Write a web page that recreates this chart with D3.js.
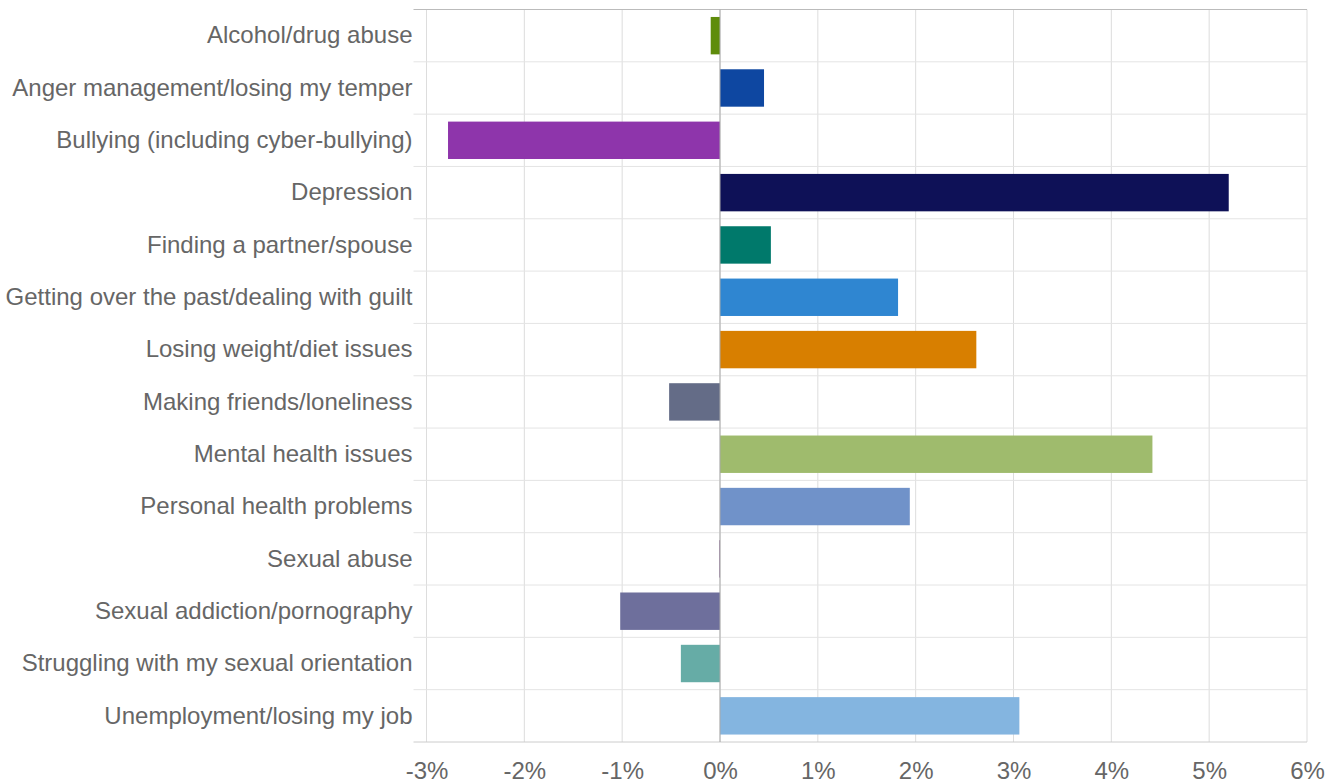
<!DOCTYPE html>
<html>
<head>
<meta charset="utf-8">
<script src="https://cdn.jsdelivr.net/npm/d3@7"></script>
<style>
  html, body { margin: 0; padding: 0; background: #fff; }
  svg { display: block; font-family: "Liberation Sans", Arial, sans-serif; }
</style>
</head>
<body>
<svg id="chart" width="1339" height="783"></svg>
<script>
// Change in share of concerns (percentage points)
const categories = [
  "Alcohol/drug abuse",
  "Anger management/losing my temper",
  "Bullying (including cyber-bullying)",
  "Depression",
  "Finding a partner/spouse",
  "Getting over the past/dealing with guilt",
  "Losing weight/diet issues",
  "Making friends/loneliness",
  "Mental health issues",
  "Personal health problems",
  "Sexual abuse",
  "Sexual addiction/pornography",
  "Struggling with my sexual orientation",
  "Unemployment/losing my job"
];
const values = [-0.095, 0.45, -2.78, 5.2, 0.52, 1.82, 2.62, -0.52, 4.42, 1.94, -0.01, -1.02, -0.40, 3.06];
const colors = [
  "#5f8c0b", "#0e47a1", "#8e35ab", "#0e1157", "#00796b", "#2f86d1", "#d87f00",
  "#646c87", "#9fbb6d", "#7092c9", "#a385ab", "#6e6f9c", "#66aca6", "#84b5e0"
];
const tickValues = [-3, -2, -1, 0, 1, 2, 3, 4, 5, 6];

const svg = d3.select("#chart");
const margin = { top: 9.5, right: 32, bottom: 41, left: 426.5 };
const W = 1339, H = 783;
const innerW = W - margin.left - margin.right;
const innerH = H - margin.top - margin.bottom;

const g = svg.append("g").attr("transform", `translate(${margin.left},${margin.top})`);

const x = d3.scaleLinear().domain([-3, 6]).range([0, innerW]);
const y = d3.scaleBand().domain(categories).range([0, innerH]).paddingInner(0.285).paddingOuter(0.1425);

// vertical gridlines
g.append("g")
  .selectAll("line")
  .data(tickValues)
  .join("line")
  .attr("x1", d => x(d)).attr("x2", d => x(d))
  .attr("y1", 0).attr("y2", innerH)
  .attr("stroke", "#dddddd").attr("stroke-width", 1);

// horizontal row separators (extend left as category ticks)
const step = y.step();
const rowEdges = d3.range(categories.length + 1).map(i => i * step);
g.append("g")
  .selectAll("line")
  .data(rowEdges)
  .join("line")
  .attr("x1", -13).attr("x2", innerW)
  .attr("y1", d => d).attr("y2", d => d)
  .attr("stroke", (d, i) => i === 0 ? "#bbbbbb" : (i === categories.length ? "#cccccc" : "#e4e4e4"))
  .attr("stroke-width", 1);

// bars
g.append("g")
  .selectAll("rect")
  .data(categories)
  .join("rect")
  .attr("x", (d, i) => x(Math.min(0, values[i])))
  .attr("width", (d, i) => Math.max(1, Math.abs(x(values[i]) - x(0))))
  .attr("y", d => y(d))
  .attr("height", y.bandwidth())
  .attr("fill", (d, i) => colors[i]);

// zero line
g.append("line")
  .attr("x1", x(0)).attr("x2", x(0))
  .attr("y1", 0).attr("y2", innerH)
  .attr("stroke", "#aaaaaa").attr("stroke-width", 1);

// category labels
const yAxis = d3.axisLeft(y).tickSize(0).tickPadding(14);
const ya = g.append("g").call(yAxis);
ya.select(".domain").remove();
ya.selectAll("text")
  .attr("font-size", 24)
  .attr("fill", "#666666")
  .attr("font-family", "'Liberation Sans', Arial, sans-serif");

// value axis
const xAxis = d3.axisBottom(x).tickValues(tickValues).tickSize(0).tickPadding(20)
  .tickFormat(d => d + "%");
const xa = g.append("g").attr("transform", `translate(0,${innerH})`).call(xAxis);
xa.select(".domain").remove();
xa.selectAll("text")
  .attr("font-size", 24)
  .attr("fill", "#666666")
  .attr("font-family", "'Liberation Sans', Arial, sans-serif");
</script>
</body>
</html>
